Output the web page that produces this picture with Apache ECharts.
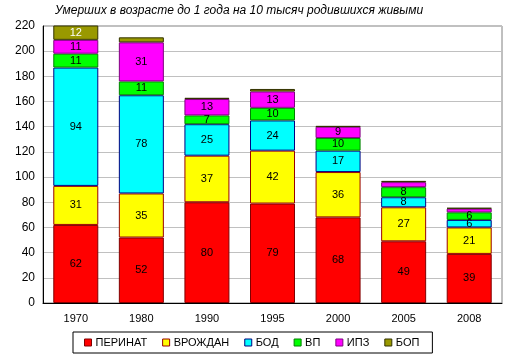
<!DOCTYPE html>
<html><head><meta charset="utf-8">
<script src="https://cdn.jsdelivr.net/npm/echarts@6/dist/echarts.min.js"></script>
<style>html,body{margin:0;padding:0;background:#fff}#c{width:516px;height:360px}</style>
</head><body><div id="c"></div>
<script>
var categories = ['1970','1980','1990','1995','2000','2005','2008'];
var perinat = [62, 52, 80, 79, 68, 49, 39];
var vrozhdan = [31, 35, 37, 42, 36, 27, 21];
var bod = [94, 78, 25, 24, 17, 8, 6];
var vp = [11, 11, 7, 10, 10, 8, 6];
var ipz = [11, 31, 13, 13, 9, 4, 3];
var bop = [12, 4, 1, 2, 0.5, 1, 0.5];
var seriesNames = ['ПЕРИНАТ','ВРОЖДАН','БОД','ВП','ИПЗ','БОП'];
var yTicks = {min: 0, max: 220, interval: 20};

var fills = ['#FF0000','#FFFF00','#00FFFF','#00FF00','#FF00FF','#999900'];
var borders = ['#800000','#990000','#000080','#008000','#800080','#333300'];
var labelColors = ['#000','#000','#000','#000','#000','#fff'];
var dataSets = [perinat, vrozhdan, bod, vp, ipz, bop];

var FONT = 'Liberation Sans, Arial, sans-serif';
var series = dataSets.map(function(d, i){
  return {
    name: seriesNames[i], type: 'bar', stack: 'all', data: d,
    barWidth: 45,
    itemStyle: {color: fills[i], borderColor: borders[i], borderWidth: 1},
    label: {show: true, position: 'inside', color: labelColors[i], fontFamily: FONT, fontSize: 11,
      formatter: function(p){ return p.value >= 5 ? String(p.value) : ''; }},
    emphasis: {disabled: true},
    animation: false
  };
});

var chart = echarts.init(document.getElementById('c'), null, {renderer: 'canvas'});
chart.setOption({
  animation: false,
  color: fills,
  title: {text: 'Умерших в возрасте до 1 года на 10 тысяч родившихся живыми', left: 50, top: 0,
    textStyle: {fontFamily: FONT, fontSize: 12, fontStyle: 'italic', fontWeight: 'normal', color: '#000'}},
  grid: {left: 43, right: 14, top: 26, bottom: 57, show: true, borderColor: '#808080', borderWidth: 1},
  legend: {left: 73, top: 332, width: 370, itemWidth: 7, itemHeight: 7, itemGap: 15,
    icon: 'rect', borderColor: '#000', borderWidth: 1, padding: [5, 13, 5, 11],
    textStyle: {fontFamily: FONT, fontSize: 11, color: '#000', padding: [0,0,0,-1]},
    itemStyle: {borderWidth: 1},
    data: seriesNames},
  xAxis: {type: 'category', data: categories,
    axisLine: {show: true, lineStyle: {color: '#000', width: 1}},
    axisTick: {show: false},
    axisLabel: {fontFamily: FONT, fontSize: 11, color: '#000', margin: 10}},
  yAxis: {type: 'value', min: yTicks.min, max: yTicks.max, interval: yTicks.interval,
    axisLine: {show: true, lineStyle: {color: '#000', width: 1}},
    axisTick: {show: false},
    splitLine: {lineStyle: {color: '#C0C0C0', width: 1}},
    axisLabel: {fontFamily: FONT, fontSize: 12, color: '#000', margin: 8}},
  series: series
});
</script></body></html>
